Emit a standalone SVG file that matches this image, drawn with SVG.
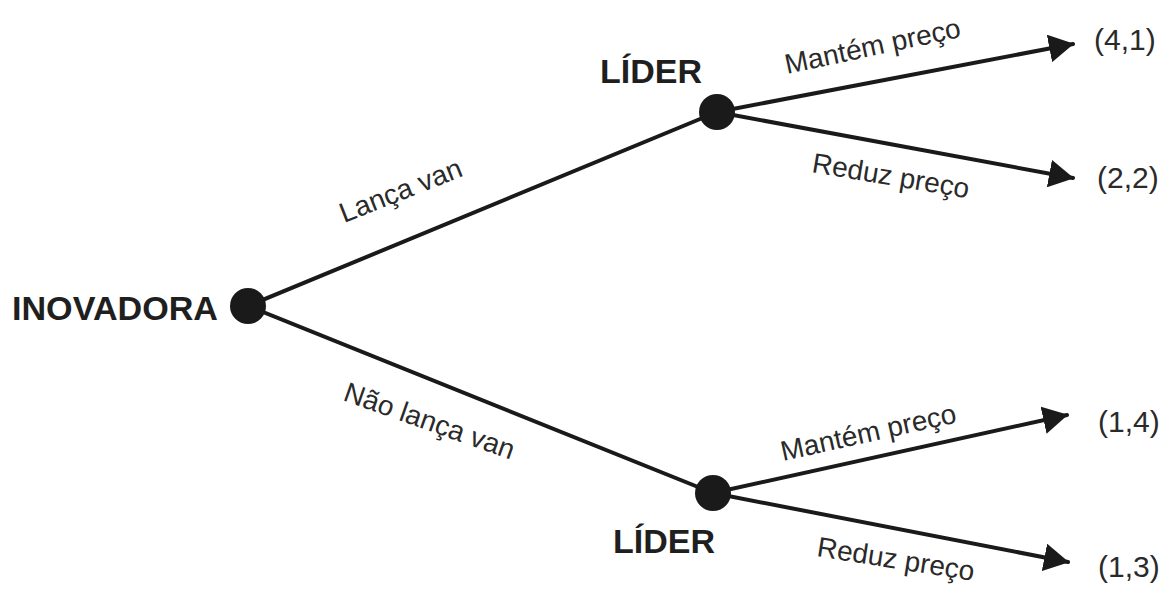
<svg xmlns="http://www.w3.org/2000/svg" width="1168" height="589" viewBox="0 0 1168 589">
<style>
.edge{stroke:#1a1a1a;stroke-width:4;fill:none;stroke-linecap:round}
.node{fill:#1a1a1a}
.name{font-family:"Liberation Sans",Arial,sans-serif;font-weight:bold;font-size:34px;fill:#1f1f1f}
.lbl{font-family:"Liberation Sans",Arial,sans-serif;font-size:28px;fill:#2a2a2a}
.pay{font-family:"Liberation Sans",Arial,sans-serif;font-size:30px;fill:#2a2a2a}
</style>
<defs>
<marker id="ah" markerUnits="userSpaceOnUse" markerWidth="26" markerHeight="28" refX="24" refY="14" orient="auto">
<path d="M0,0 L25,14 L0,28 Z" fill="#1a1a1a"/>
</marker>
</defs>
<g id="connectors">
<line class="edge" x1="248" y1="306" x2="717" y2="112"/>
<line class="edge" x1="248" y1="306" x2="713" y2="493"/>
<line class="edge" x1="717" y1="112" x2="1073" y2="44" marker-end="url(#ah)"/>
<line class="edge" x1="717" y1="112" x2="1073" y2="178" marker-end="url(#ah)"/>
<line class="edge" x1="713" y1="493" x2="1067" y2="415" marker-end="url(#ah)"/>
<line class="edge" x1="713" y1="493" x2="1068" y2="562" marker-end="url(#ah)"/>
<text class="lbl" transform="translate(344,223) rotate(-21.5)" font-size="29">Lança van</text>
<text class="lbl" transform="translate(342,400) rotate(19.5)" font-size="29">Não lança van</text>
<text class="lbl" transform="translate(787,74) rotate(-12)">Mantém preço</text>
<text class="lbl" transform="translate(811,172) rotate(9.5)">Reduz preço</text>
<text class="lbl" transform="translate(783,461) rotate(-12.5)">Mantém preço</text>
<text class="lbl" transform="translate(816,556) rotate(9)">Reduz preço</text>
</g>
<g id="inovadora">
<circle class="node" cx="248" cy="306" r="18"/>
<text class="name" x="12" y="320" textLength="206" lengthAdjust="spacingAndGlyphs">INOVADORA</text>
</g>
<g id="lider-top">
<circle class="node" cx="717" cy="112" r="18"/>
<text class="name" x="600" y="83">LÍDER</text>
</g>
<g id="lider-bottom">
<circle class="node" cx="713" cy="493" r="18"/>
<text class="name" x="613" y="553">LÍDER</text>
</g>
<g id="payoffs">
<text class="pay" x="1094" y="50">(4,1)</text>
<text class="pay" x="1097" y="188">(2,2)</text>
<text class="pay" x="1098" y="432">(1,4)</text>
<text class="pay" x="1098" y="577">(1,3)</text>
</g>
</svg>
